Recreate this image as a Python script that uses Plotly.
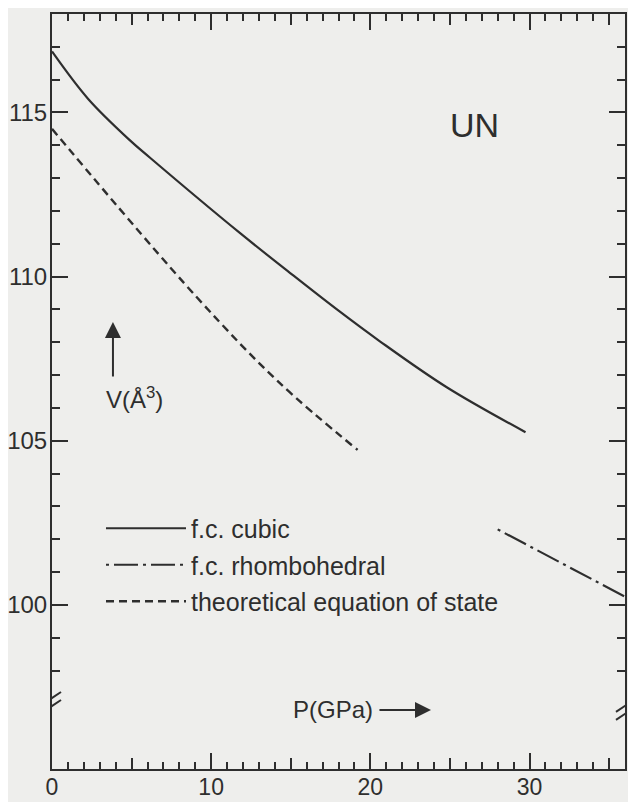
import plotly.graph_objects as go

# ---- data ----
p_cubic = [0.0, 2.26, 4.9, 6.16, 11.8, 15.2, 17.9, 20.6, 24.8, 29.75]
v_cubic = [116.86, 115.42, 114.15, 113.62, 111.33, 110.02, 109.0, 108.03, 106.63, 105.26]

p_rhombo = [28.0, 31.95, 36.0]
v_rhombo = [102.3, 101.28, 100.25]

p_theory = [0.0, 9.1, 14.3, 19.2]
v_theory = [114.5, 109.37, 106.76, 104.72]

x_major = [0, 10, 20, 30]
x_mid = [5, 15, 25, 35]
y_major = [100, 105, 110, 115]
y_minor = [98, 99, 101, 102, 103, 104, 106, 107, 108, 109, 111, 112, 113, 114, 116, 117]

names = ["f.c. cubic", "f.c. rhombohedral", "theoretical equation of state"]

INK = "#2e2e2e"
BG = "#eeeeec"
FONT = "Liberation Sans, Arial, sans-serif"

fig = go.Figure()
fig.add_trace(go.Scatter(x=p_cubic, y=v_cubic, mode="lines", name=names[0],
                         line=dict(color=INK, width=2.2, shape="spline", smoothing=1.0),
                         legendgroup="a"))
fig.add_trace(go.Scatter(x=p_rhombo, y=v_rhombo, mode="lines", name=names[1],
                         line=dict(color=INK, width=2.2, dash="3px,5px,24px,5px"),
                         legendgroup="b"))
fig.add_trace(go.Scatter(x=p_theory, y=v_theory, mode="lines", name=names[2],
                         line=dict(color=INK, width=2.4, dash="8px,5px", shape="spline"),
                         legendgroup="c"))
# helper trace for the overlay axis (mid ticks)
fig.add_trace(go.Scatter(x=[None], y=[None], xaxis="x2", showlegend=False, hoverinfo="skip"))

fig.update_layout(
    width=628, height=794,
    margin=dict(l=44, r=11, t=6, b=33, autoexpand=False),
    paper_bgcolor=BG, plot_bgcolor=BG,
    font=dict(family=FONT, color=INK, size=24),
    xaxis=dict(range=[0, 36], tickmode="array", tickvals=x_major, automargin=False,
               ticks="inside", ticklen=16, tickwidth=2, tickcolor=INK,
               minor=dict(dtick=1, tick0=0, ticks="inside", ticklen=7, tickwidth=2, tickcolor=INK),
               showline=True, linewidth=2, linecolor=INK, mirror="ticks",
               showgrid=False, zeroline=False, tickfont=dict(size=23),
               ticklabelstandoff=-4),
    xaxis2=dict(range=[0, 36], overlaying="x", side="bottom", tickmode="array", tickvals=x_mid,
                ticks="inside", ticklen=11, tickwidth=2, tickcolor=INK, automargin=False,
                showticklabels=False, showline=False, mirror="ticks",
                showgrid=False, zeroline=False),
    yaxis=dict(range=[95, 118], tickmode="array", tickvals=y_major, automargin=False,
               ticks="inside", ticklen=16, tickwidth=2, tickcolor=INK,
               minor=dict(tickmode="array", tickvals=y_minor, ticks="inside", ticklen=8,
                          tickwidth=2, tickcolor=INK),
               showline=True, linewidth=2, linecolor=INK, mirror="ticks",
               showgrid=False, zeroline=False, tickfont=dict(size=24),
               ticklabelstandoff=-2),
    legend=dict(x=0.0855, y=0.349, xanchor="left", yanchor="top",
                bgcolor="rgba(0,0,0,0)", borderwidth=0, itemwidth=80,
                traceorder="grouped", tracegroupgap=1,
                font=dict(size=25, color=INK, family=FONT)),
    showlegend=True,
)

# text annotations
fig.add_annotation(x=26.57, y=114.62, text="UN", showarrow=False,
                   font=dict(size=34, color=INK, family=FONT))
fig.add_annotation(x=5.21, y=106.3, text="V(Å<sup>3</sup>)", showarrow=False,
                   font=dict(size=24, color=INK, family=FONT))
fig.add_annotation(x=3.83, y=108.62, ax=3.83, ay=106.91, axref="x", ayref="y",
                   text="", showarrow=True, arrowhead=2, arrowsize=1.6, arrowwidth=2,
                   arrowcolor=INK)
fig.add_annotation(x=17.65, y=96.8, text="P(GPa)", showarrow=False,
                   font=dict(size=24, color=INK, family=FONT))
fig.add_annotation(x=23.81, y=96.8, ax=20.48, ay=96.8, axref="x", ayref="y",
                   text="", showarrow=True, arrowhead=2, arrowsize=1.6, arrowwidth=2,
                   arrowcolor=INK)

# axis break marks (pixel offsets anchored on the axes)
for xa, ya in [(0, 97.04), (36, 96.8)]:
    for dy in (4, -4):
        fig.add_shape(type="line", xref="x", yref="y",
                      xsizemode="pixel", xanchor=xa, x0=-9, x1=9,
                      ysizemode="pixel", yanchor=ya, y0=dy - 6, y1=dy + 6,
                      line=dict(color=INK, width=2))

fig.write_html("out.html")
